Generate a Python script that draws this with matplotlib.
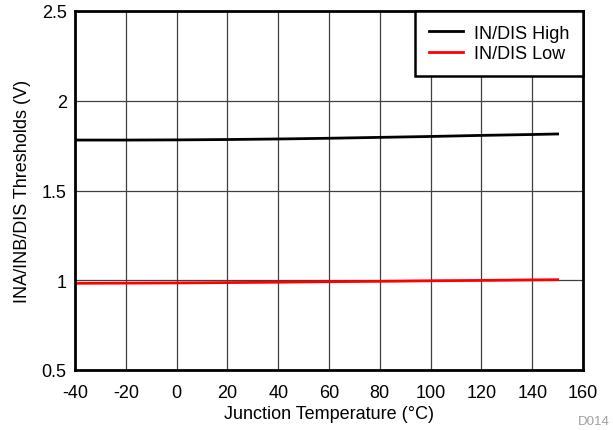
import matplotlib.pyplot as plt

plt.rcParams['font.family'] = ['Liberation Sans', 'DejaVu Sans']

temp = [-40, -20, 0, 20, 40, 60, 80, 100, 120, 140, 150]
high = [1.781, 1.781, 1.782, 1.784, 1.787, 1.791, 1.796, 1.801, 1.807, 1.812, 1.815]
low = [0.983, 0.984, 0.985, 0.987, 0.989, 0.992, 0.994, 0.997, 0.999, 1.002, 1.003]

xticks = [-40, -20, 0, 20, 40, 60, 80, 100, 120, 140, 160]
yticks = [0.5, 1, 1.5, 2, 2.5]
ylabels = ['0.5', '1', '1.5', '2', '2.5']

fig = plt.figure(figsize=(6.13, 4.31), dpi=100)
ax = fig.add_axes([75/613, 60/431, 508/613, 359/431])

ax.plot(temp, high, color='black', linewidth=2, label='IN/DIS High')
ax.plot(temp, low, color='#ff0000', linewidth=2, label='IN/DIS Low')

ax.set_xlim(-40, 160)
ax.set_ylim(0.5, 2.5)
ax.set_xticks(xticks)
ax.set_xticklabels([str(t) for t in xticks])
ax.set_yticks(yticks)
ax.set_yticklabels(ylabels)
ax.tick_params(length=0, labelsize=13)
ax.tick_params(axis='x', pad=10)
ax.tick_params(axis='y', pad=6)
ax.grid(True, color='#404040', linewidth=0.9)
ax.set_axisbelow(True)
for s in ax.spines.values():
    s.set_linewidth(2)

ax.set_xlabel('Junction Temperature (°C)', fontsize=13, labelpad=3)
ax.set_ylabel('INA/INB/DIS Thresholds (V)', fontsize=13, labelpad=8)

leg = ax.legend(loc='upper right', fontsize=13, frameon=True, fancybox=False,
                borderaxespad=0, handlelength=1.9, handletextpad=0.6,
                borderpad=0.75, labelspacing=0.2)
leg.get_frame().set_edgecolor('black')
leg.get_frame().set_linewidth(1.8)
leg.get_frame().set_alpha(1)

fig.text(610/613, 9/431, 'D014', ha='right', va='center', fontsize=9.5, color='#a0a0a0')

fig.savefig('out.png', dpi=100)
